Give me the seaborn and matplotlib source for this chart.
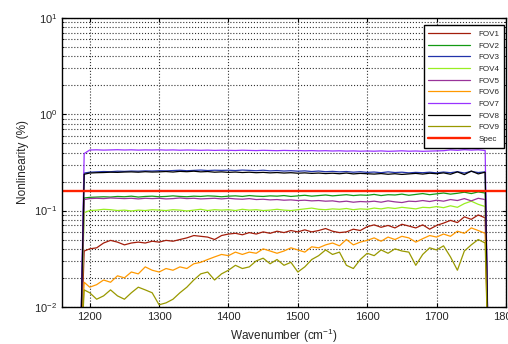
import numpy as np
import pandas as pd
import seaborn as sns
import matplotlib
matplotlib.use("Agg")
import matplotlib.pyplot as plt
from matplotlib.ticker import LogLocator, LogFormatterMathtext, NullFormatter

# wavenumber grid: ramp-in points, 1200..1770 every 10, ramp-out point
wn = [1186, 1192] + list(range(1200, 1780, 10)) + [1775]

fov1 = [0.002, 0.038,
        0.040, 0.041, 0.046, 0.049, 0.047, 0.044, 0.046, 0.047, 0.046, 0.048,
        0.047, 0.049, 0.048, 0.050, 0.052, 0.055, 0.054, 0.053, 0.050, 0.055,
        0.057, 0.058, 0.056, 0.059, 0.057, 0.060, 0.058, 0.061, 0.059, 0.062,
        0.060, 0.063, 0.060, 0.062, 0.065, 0.061, 0.059, 0.060, 0.064, 0.062,
        0.068, 0.071, 0.067, 0.070, 0.066, 0.072, 0.069, 0.066, 0.071, 0.064,
        0.070, 0.074, 0.079, 0.075, 0.086, 0.081, 0.090, 0.084,
        0.002]
fov2 = [0.002, 0.135,
        0.137, 0.138, 0.139, 0.138, 0.140, 0.139, 0.141, 0.138, 0.140, 0.141,
        0.139, 0.140, 0.142, 0.140, 0.139, 0.141, 0.140, 0.142, 0.141, 0.139,
        0.141, 0.142, 0.140, 0.143, 0.141, 0.140, 0.142, 0.141, 0.143, 0.140,
        0.142, 0.144, 0.141, 0.143, 0.145, 0.142, 0.144, 0.146, 0.143, 0.145,
        0.144, 0.147, 0.143, 0.146, 0.145, 0.148, 0.144, 0.147, 0.150, 0.146,
        0.149, 0.152, 0.148, 0.151, 0.155, 0.150, 0.156, 0.152,
        0.002]
fov3 = [0.002, 0.245,
        0.250, 0.252, 0.254, 0.253, 0.256, 0.255, 0.257, 0.256, 0.258, 0.257,
        0.259, 0.258, 0.260, 0.262, 0.259, 0.261, 0.263, 0.260, 0.262, 0.261,
        0.262, 0.260, 0.263, 0.261, 0.259, 0.262, 0.258, 0.260, 0.257, 0.259,
        0.256, 0.258, 0.254, 0.257, 0.253, 0.255, 0.252, 0.254, 0.250, 0.253,
        0.249, 0.251, 0.247, 0.252, 0.248, 0.250, 0.246, 0.249, 0.247, 0.250,
        0.246, 0.251, 0.247, 0.253, 0.245, 0.255, 0.248, 0.252,
        0.002]
fov4 = [0.002, 0.095,
        0.100, 0.101, 0.103, 0.102, 0.100, 0.101, 0.099, 0.101, 0.100, 0.102,
        0.101, 0.100, 0.102, 0.101, 0.099, 0.101, 0.103, 0.100, 0.102, 0.101,
        0.102, 0.100, 0.103, 0.101, 0.102, 0.100, 0.101, 0.103, 0.101, 0.100,
        0.102, 0.104, 0.106, 0.103, 0.102, 0.104, 0.103, 0.105, 0.102, 0.104,
        0.103, 0.106, 0.104, 0.107, 0.105, 0.108, 0.106, 0.104, 0.108, 0.107,
        0.110, 0.107, 0.112, 0.108, 0.118, 0.125, 0.116, 0.110,
        0.002]
fov5 = [0.002, 0.130,
        0.133, 0.134, 0.133, 0.135, 0.134, 0.133, 0.134, 0.132, 0.134, 0.133,
        0.134, 0.132, 0.133, 0.135, 0.133, 0.134, 0.132, 0.133, 0.134, 0.132,
        0.134, 0.132, 0.131, 0.133, 0.130, 0.131, 0.129, 0.130, 0.128, 0.129,
        0.127, 0.128, 0.126, 0.127, 0.125, 0.126, 0.123, 0.125, 0.122, 0.124,
        0.123, 0.125, 0.122, 0.126, 0.123, 0.121, 0.125, 0.124, 0.127, 0.124,
        0.128, 0.125, 0.130, 0.127, 0.133, 0.126, 0.134, 0.130,
        0.002]
fov6 = [0.002, 0.018,
        0.016, 0.017, 0.019, 0.018, 0.021, 0.020, 0.023, 0.022, 0.026, 0.024,
        0.023, 0.025, 0.024, 0.026, 0.025, 0.028, 0.029, 0.031, 0.033, 0.035,
        0.034, 0.037, 0.035, 0.037, 0.036, 0.040, 0.038, 0.036, 0.038, 0.041,
        0.039, 0.037, 0.042, 0.041, 0.044, 0.046, 0.043, 0.050, 0.044, 0.047,
        0.049, 0.052, 0.048, 0.053, 0.050, 0.054, 0.052, 0.047, 0.051, 0.055,
        0.053, 0.057, 0.054, 0.061, 0.058, 0.066, 0.062, 0.058,
        0.002]
fov7 = [0.002, 0.390,
        0.425, 0.427, 0.424, 0.426, 0.428, 0.425, 0.427, 0.424, 0.426, 0.425,
        0.427, 0.424, 0.426, 0.423, 0.425, 0.424, 0.422, 0.424, 0.421, 0.423,
        0.422, 0.420, 0.423, 0.421, 0.419, 0.422, 0.420, 0.418, 0.421, 0.419,
        0.420, 0.417, 0.419, 0.416, 0.418, 0.415, 0.417, 0.414, 0.416, 0.413,
        0.415, 0.413, 0.416, 0.412, 0.414, 0.417, 0.413, 0.415, 0.412, 0.414,
        0.416, 0.418, 0.426, 0.422, 0.428, 0.424, 0.427, 0.420,
        0.002]
fov8 = [0.002, 0.238,
        0.245, 0.247, 0.248, 0.250, 0.249, 0.251, 0.252, 0.250, 0.253, 0.251,
        0.252, 0.254, 0.251, 0.255, 0.253, 0.256, 0.252, 0.254, 0.250, 0.252,
        0.249, 0.251, 0.248, 0.250, 0.247, 0.249, 0.246, 0.248, 0.245, 0.247,
        0.244, 0.246, 0.243, 0.245, 0.242, 0.244, 0.241, 0.245, 0.240, 0.243,
        0.241, 0.239, 0.242, 0.238, 0.241, 0.237, 0.240, 0.243, 0.239, 0.244,
        0.241, 0.246, 0.238, 0.252, 0.236, 0.257, 0.240, 0.250,
        0.002]
fov9 = [0.002, 0.015,
        0.014, 0.012, 0.013, 0.015, 0.013, 0.012, 0.014, 0.016, 0.015, 0.014,
        0.0105, 0.011, 0.012, 0.014, 0.016, 0.019, 0.022, 0.023, 0.019, 0.022,
        0.024, 0.027, 0.025, 0.026, 0.030, 0.032, 0.028, 0.031, 0.027, 0.029,
        0.023, 0.026, 0.031, 0.034, 0.039, 0.035, 0.037, 0.027, 0.025, 0.031,
        0.036, 0.034, 0.039, 0.036, 0.040, 0.038, 0.037, 0.027, 0.035, 0.041,
        0.039, 0.043, 0.033, 0.024, 0.038, 0.044, 0.050, 0.046,
        0.002]

spec_x = [1160, 1800]
spec_y = [0.158, 0.158]

names = ["FOV1", "FOV2", "FOV3", "FOV4", "FOV5", "FOV6", "FOV7", "FOV8", "FOV9"]
series = [fov1, fov2, fov3, fov4, fov5, fov6, fov7, fov8, fov9]
colors = ["#a31d0b", "#139a13", "#2233aa", "#99ee22", "#993399",
          "#ff9900", "#9933ff", "#000000", "#999900"]

sns.set_style("ticks")
plt.rcParams["font.family"] = ["Liberation Sans", "DejaVu Sans"]
plt.rcParams["mathtext.fontset"] = "custom"
plt.rcParams["mathtext.rm"] = "Liberation Sans"
plt.rcParams["mathtext.it"] = "Liberation Sans:italic"

fig = plt.figure(figsize=(5.08, 3.44), dpi=100)
ax = fig.add_axes([0.122, 0.108, 0.874, 0.840])

for name, vals, c in zip(names, series, colors):
    df = pd.DataFrame({"wn": wn, "nl": vals})
    sns.lineplot(data=df, x="wn", y="nl", color=c, lw=0.9, label=name,
                 estimator=None, sort=False, ax=ax)

sns.lineplot(x=spec_x, y=spec_y, color="#ff2200", lw=1.7, label="Spec",
             estimator=None, ax=ax)

ax.set_yscale("log")
ax.set_ylim(0.01, 10)
ax.set_xlim(1160, 1800)
ax.set_xticks(range(1200, 1801, 100))
ax.yaxis.set_major_locator(LogLocator(base=10))
ax.yaxis.set_major_formatter(LogFormatterMathtext())
ax.yaxis.set_minor_locator(LogLocator(base=10, subs=np.arange(2, 10)))
ax.yaxis.set_minor_formatter(NullFormatter())

ax.grid(True, which="major", axis="both", color="0.2", ls=":", lw=0.8)
ax.grid(True, which="minor", axis="y", color="0.2", ls=":", lw=0.8)

ax.tick_params(which="both", direction="in", top=True, right=True,
               labelsize=8, color="k")
ax.tick_params(which="major", length=3)
ax.tick_params(which="minor", length=1.5)
for s in ax.spines.values():
    s.set_color("k")
    s.set_linewidth(1.0)

ax.set_xlabel("Wavenumber (cm$^{-1}$)", fontsize=8.5)
ax.set_ylabel("Nonlinearity (%)", fontsize=8.5)

leg = ax.legend(loc="upper right", bbox_to_anchor=(1.005, 0.988),
                fontsize=5.8, handlelength=5.2, labelspacing=0.5,
                fancybox=False, framealpha=1, edgecolor="k",
                borderpad=0.6, handletextpad=1.0)
leg.get_frame().set_linewidth(1.0)

fig.savefig("out.png", dpi=100)
